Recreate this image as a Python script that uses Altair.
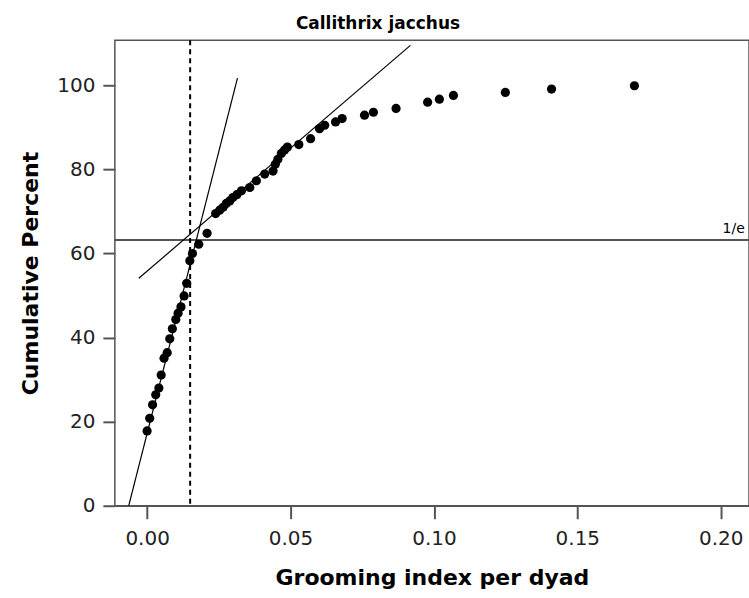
import altair as alt
import pandas as pd

# Data
grooming_index = [0.0000, 0.0009, 0.0019, 0.0030, 0.0041, 0.0049, 0.0059, 0.0070,
                  0.0079, 0.0088, 0.0100, 0.0108, 0.0118, 0.0129, 0.0138, 0.0149,
                  0.0158, 0.0180, 0.0209, 0.0239, 0.0253, 0.0265, 0.0276, 0.0288,
                  0.0299, 0.0313, 0.0329, 0.0358, 0.0381, 0.0410, 0.0439, 0.0447,
                  0.0456, 0.0468, 0.0479, 0.0489, 0.0529, 0.0570, 0.0601, 0.0619,
                  0.0657, 0.0680, 0.0758, 0.0789, 0.0868, 0.0978, 0.1019, 0.1068,
                  0.1249, 0.1410, 0.1699]
cumulative_percent = [17.8, 20.8, 24.0, 26.4, 28.0, 31.1, 35.1, 36.4,
                      39.7, 42.1, 44.3, 45.8, 47.3, 49.9, 52.9, 58.3,
                      60.0, 62.2, 64.8, 69.5, 70.3, 71.0, 71.9, 72.5,
                      73.3, 74.0, 74.9, 75.7, 77.3, 78.9, 79.6, 81.2,
                      82.4, 83.8, 84.6, 85.3, 85.9, 87.3, 89.7, 90.5,
                      91.3, 92.1, 92.9, 93.6, 94.5, 96.0, 96.7, 97.6,
                      98.3, 99.1, 99.9]

steep_fit_x = [-0.0064, 0.0315]
steep_fit_y = [0.0, 101.7]
shallow_fit_x = [-0.0029, 0.0918]
shallow_fit_y = [54.1, 109.5]

threshold_x = [0.015]
inv_e_percent = [63.2]
inv_e_label = ["1/e"]

x_ticks = [0.0, 0.05, 0.10, 0.15, 0.20]
y_ticks = [0, 20, 40, 60, 80, 100]

FONT = "DejaVu Sans"

points_df = pd.DataFrame({"x": grooming_index, "y": cumulative_percent})
steep_df = pd.DataFrame({"x": steep_fit_x, "y": steep_fit_y})
shallow_df = pd.DataFrame({"x": shallow_fit_x, "y": shallow_fit_y})
thr_df = pd.DataFrame({"x": threshold_x})
inv_df = pd.DataFrame({"y": inv_e_percent})
lab_df = pd.DataFrame({"x": [0.2045], "y": inv_e_percent, "t": inv_e_label})

x_scale = alt.Scale(domain=[-0.01125, 0.20985], nice=False, zero=False)
y_scale = alt.Scale(domain=[0, 110.7], nice=False, zero=False)

x_axis = alt.Axis(title="Grooming index per dyad", values=x_ticks, format=".2f",
                  grid=False, domainColor="#555", domainWidth=1.5,
                  tickColor="#555", tickWidth=2, tickSize=13,
                  labelFont=FONT, labelFontSize=20, labelColor="#222",
                  labelPadding=10, titleFont=FONT, titleFontSize=22,
                  titleFontWeight="bold", titleColor="black", titlePadding=19)
y_axis = alt.Axis(title="Cumulative Percent", values=y_ticks, format="d",
                  grid=False, domain=False,
                  tickColor="#555", tickWidth=2, tickSize=12,
                  labelFont=FONT, labelFontSize=20, labelColor="#222",
                  labelPadding=8, titleFont=FONT, titleFontSize=22,
                  titleFontWeight="bold", titleColor="black", titlePadding=14)

X = alt.X("x:Q", scale=x_scale, axis=x_axis)
Y = alt.Y("y:Q", scale=y_scale, axis=y_axis)

points = alt.Chart(points_df).mark_circle(size=85, color="black", opacity=1).encode(x=X, y=Y)
steep = alt.Chart(steep_df).mark_line(color="black", strokeWidth=1.2).encode(x=X, y=Y)
shallow = alt.Chart(shallow_df).mark_line(color="black", strokeWidth=1.2).encode(x=X, y=Y)
thr = alt.Chart(thr_df).mark_rule(color="black", strokeWidth=2, strokeDash=[5, 4]).encode(x=X)
inv = alt.Chart(inv_df).mark_rule(color="#555", strokeWidth=2).encode(y=Y)
lab = alt.Chart(lab_df).mark_text(font=FONT, fontSize=14, color="black",
                                  align="center", baseline="bottom", dy=-4).encode(
    x=X, y=Y, text="t:N")

chart = alt.layer(inv, thr, steep, shallow, points, lab).properties(
    width=635,
    height=466,
    title=alt.TitleParams("Callithrix jacchus", font=FONT, fontSize=17,
                          fontWeight="bold", color="black", anchor="middle",
                          dx=-54, offset=6),
    autosize=alt.AutoSizeParams(type="none"),
    padding={"left": 115, "top": 40, "right": 0, "bottom": 92},
).configure(
    background="white",
    view=alt.ViewConfig(stroke="#555", strokeWidth=1.5),
)

chart.save("out.html", embed_options={"renderer": "svg", "actions": False})
